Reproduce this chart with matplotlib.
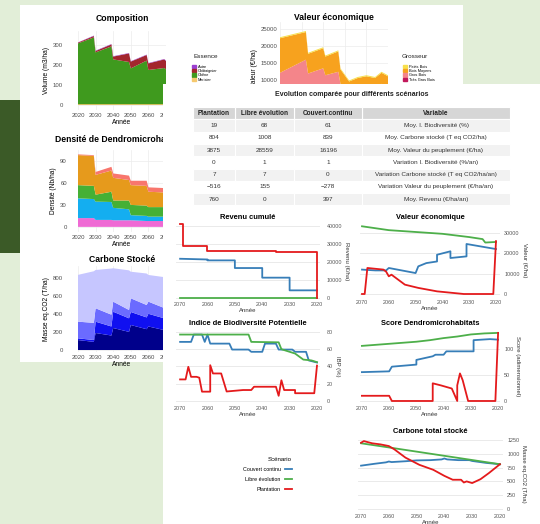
import matplotlib.pyplot as plt
from matplotlib.patches import Rectangle, Patch

plt.rcParams['font.family'] = ['Liberation Sans', 'DejaVu Sans']

# ---------------- Données : panneau arrière ----------------
annees_ticks = [2020, 2030, 2040, 2050, 2060, 2070]

# Composition (m3/ha)
comp_annees = [2020, 2029, 2030, 2039, 2040, 2049, 2050, 2059, 2060, 2069, 2070, 2075]
comp_merisier = [4, 4, 4, 4, 4, 4, 4, 4, 4, 4, 4, 4]
comp_chene = [304, 334, 259, 289, 224, 211, 179, 218, 171, 181, 174, 176]
comp_chataignier = [4, 7, 7, 10, 14, 43, 34, 28, 33, 43, 42, 45]
comp_autre = [1, 2, 2, 2, 2, 2, 2, 2, 2, 2, 2, 2]
essences = ["Autre", "Châtaignier", "Chêne", "Merisier"]
couleurs_essences = ["#9a3fd0", "#a3262e", "#3f9a1e", "#f6c96e"]

# Valeur économique (€/ha)
val_annees = [2020, 2032, 2033, 2040, 2041, 2047, 2048, 2052, 2056, 2060, 2064, 2067, 2070]
val_tres_gros = [400, 600, 450, 500, 450, 500, 350, 300, 350, 400, 380, 420, 400]
val_gros = [11800, 15400, 11550, 13000, 11050, 12000, 8650, 7200, 7650, 8100, 7820, 8580, 8100]
val_moyens = [10000, 8000, 5700, 5800, 5400, 5900, 4200, 2200, 2700, 2700, 2500, 3200, 2700]
val_petits = [300, 300, 300, 300, 300, 300, 300, 300, 300, 300, 300, 300, 300]
grosseurs = ["Petits Bois", "Bois Moyens", "Gros Bois", "Très Gros Bois"]
couleurs_grosseurs = ["#f7e04b", "#f7a21e", "#f4858a", "#c2185b"]

# Densité de dendromicrohabitats (Nb/ha)
dens_annees = [2020, 2029, 2030, 2039, 2040, 2049, 2050, 2059, 2060, 2069, 2070, 2075]
dens_rose = [12, 12, 9.5, 9.5, 9, 9, 9, 8, 8, 8, 8, 8]
dens_bleu = [27, 26, 25, 24.5, 17, 15, 7, 7, 6, 6, 6, 6]
dens_vert = [18, 18, 9.5, 14, 10, 12, 14, 14, 13, 13, 13, 13]
dens_orange = [41, 41, 27, 29, 31, 28, 27, 27, 21, 20, 18, 18]
dens_saumon = [1, 1, 4, 5, 6, 6, 6, 7, 6, 6, 6, 6]

# Carbone stocké (T/ha)
carb_annees = [2020, 2029, 2030, 2039, 2040, 2049, 2050, 2059, 2060, 2069, 2070, 2075]
carb_marine = [110, 90, 188, 160, 243, 200, 276, 230, 260, 220, 240, 235]
carb_bleu = [19, 20, 125, 100, 180, 150, 144, 130, 140, 130, 140, 135]
carb_moyen = [184, 190, 148, 130, 111, 92, 151, 137, 134, 114, 84, 80]
carb_lavande = [517, 570, 423, 510, 369, 438, 294, 348, 295, 341, 328, 335]

# ---------------- Données : panneau avant ----------------
scenarios = ["Couvert continu", "Libre évolution", "Plantation"]
couleurs_scen = ["#377eb8", "#4daf4a", "#e41a1c"]

tab_entetes = ["Variable", "Couvert.continu", "Libre évolution", "Plantation"]
tab_variables = ["Moy. I. Biodiversité (%)", "Moy. Carbone stocké (T eq CO2/ha)",
                 "Moy. Valeur du peuplement (€/ha)", "Variation I. Biodiversité (%/an)",
                 "Variation Carbone stocké (T eq CO2/ha/an)",
                 "Variation Valeur du peuplement (€/ha/an)", "Moy. Revenu (€/ha/an)"]
tab_couvert = ["61", "839", "16196", "1", "0", "−278", "397"]
tab_libre = ["68", "1008", "28559", "1", "7", "155", "0"]
tab_plantation = ["19", "804", "3875", "0", "7", "−516", "760"]

# Valeur économique
ve_cc_x = [2020, 2031, 2031, 2037, 2037, 2042, 2042, 2046, 2049, 2050, 2060, 2061, 2065, 2070]
ve_cc_y = [22100, 24600, 18500, 17700, 21000, 19300, 16000, 15200, 13600, 10300, 12800, 11600, 11600, 12000]
ve_le_x = [2020, 2024, 2025, 2030, 2040, 2050, 2060, 2070]
ve_le_y = [25600, 25300, 27000, 28000, 29600, 30500, 31400, 33300]
ve_pl_x = [2020, 2021, 2032, 2042, 2049, 2054, 2059, 2060, 2061, 2062, 2068, 2069, 2070]
ve_pl_y = [26000, 0, 0, 1300, 3000, 4600, 9500, 8700, 11000, 12000, 12800, 0, 0]

# Revenu cumulé
rc_cc_x = [2020, 2030, 2030, 2040, 2040, 2050, 2050, 2060, 2060, 2070]
rc_cc_y = [4250, 4250, 11300, 11300, 16650, 16650, 20900, 20900, 21400, 21800]
rc_le_x = [2020, 2070]
rc_le_y = [0, 0]
rc_pl_x = [2020, 2020, 2035, 2035, 2045, 2045, 2060, 2060, 2069, 2069, 2070]
rc_pl_y = [0, 25500, 25500, 26000, 26000, 26300, 26300, 28900, 28900, 41300, 41300]

# Indice de Biodiversité Potentielle
ibp_cc_x = [2020, 2023, 2024, 2028, 2029, 2034, 2035, 2039, 2040, 2044, 2045, 2051, 2052,
            2059, 2060, 2061, 2062, 2065, 2066, 2070]
ibp_cc_y = [44.6, 47, 57, 57, 59.6, 59.6, 66.5, 66.5, 57, 57, 59.6, 59.6, 66.5,
            66.5, 77, 68.5, 77, 77, 68.5, 68.5]
ibp_le_x = [2020, 2022, 2025, 2028, 2030, 2033, 2034, 2044, 2045, 2070]
ibp_le_y = [45, 47, 48, 55, 57, 60, 68, 68.5, 77, 77]
ibp_pl_x = [2020, 2021, 2028, 2028, 2032, 2033, 2034, 2035, 2037, 2043, 2044, 2047, 2053,
            2055, 2058, 2059, 2059, 2062, 2063, 2064, 2066, 2067, 2068, 2070]
ibp_pl_y = [41, 9, 9, 12.7, 12.7, 24, 6, 16.5, 16.5, 16.5, 12.7, 12.7, 11,
            31.9, 31.9, 41.5, 10.8, 10.8, 27, 28, 28, 39.6, 25, 25]

# Score dendromicrohabitats
sd_cc_x = [2020, 2023, 2029, 2029, 2039, 2040, 2043, 2044, 2050, 2050, 2059, 2060, 2070]
sd_cc_y = [118, 119, 117, 95.5, 95.5, 89, 89, 86, 79, 70, 66, 57, 55.5]
sd_le_x = [2020, 2025, 2030, 2035, 2040, 2045, 2050, 2055, 2060, 2065, 2070]
sd_le_y = [131, 130, 128, 124, 121, 117, 114, 112, 110, 108, 106]
sd_pl_x = [2020, 2021, 2031, 2033, 2034, 2035, 2035, 2037, 2041, 2044, 2044, 2059, 2060, 2070]
sd_pl_y = [131, 0, 0, 40, 53, 30, 0, 24, 30, 34, 0, 0, 10, 10]

# Carbone total stocké
ct_cc_x = [2020, 2025, 2030, 2031, 2035, 2039, 2040, 2041, 2045, 2050, 2054, 2059, 2060, 2061, 2065, 2070]
ct_cc_y = [811, 835, 870, 885, 885, 898, 915, 898, 885, 880, 865, 850, 860, 845, 820, 785]
ct_le_x = [2020, 2030, 2040, 2050, 2060, 2070]
ct_le_y = [811, 887, 963, 1039, 1115, 1190]
ct_pl_x = [2020, 2024, 2027, 2030, 2032, 2033, 2034, 2037, 2040, 2044, 2049, 2054, 2058,
           2060, 2063, 2066, 2069, 2070]
ct_pl_y = [811, 650, 540, 470, 500, 480, 530, 530, 600, 710, 800, 930, 1080,
           1140, 1170, 1190, 1230, 1200]

# ---------------- Figure ----------------
W, H = 540, 524
fig = plt.figure(figsize=(W / 100, H / 100), dpi=100)
fig.patch.set_facecolor('#e2eed8')


def boite(g, h, d, b):
    return [g / W, 1 - b / H, (d - g) / W, (b - h) / H]


def rect_fig(g, h, d, b, couleur, z):
    fig.add_artist(Rectangle((g / W, 1 - b / H), (d - g) / W, (b - h) / H,
                             transform=fig.transFigure, facecolor=couleur,
                             edgecolor='none', zorder=z))


rect_fig(0, 100, 20, 253, '#3b5a27', -3)
rect_fig(20, 5, 463, 362, 'white', -2)


def graphe_fond(pos, annees, couches, couleurs, ylim, yticks, titre, ylabel, tpad, ypad,
                axe_x=True):
    ax = fig.add_axes(boite(*pos), zorder=0)
    ax.stackplot(annees, *couches, colors=couleurs, lw=0)
    ax.set_xlim(2020, 2070)
    ax.set_ylim(*ylim)
    ax.set_xticks(annees_ticks)
    ax.set_yticks(yticks)
    ax.grid(color='#ececec', lw=0.5)
    ax.set_axisbelow(True)
    for s in ax.spines.values():
        s.set_visible(False)
    ax.tick_params(axis='x', length=0, labelsize=4.3, labelcolor='#4d4d4d', pad=2,
                   labelbottom=axe_x)
    ax.tick_params(axis='y', length=0, labelsize=4.3, labelcolor='#4d4d4d', pad=ypad)
    ax.set_title(titre, fontsize=6.2, fontweight='bold', pad=tpad)
    if axe_x:
        ax.set_xlabel('Année', fontsize=4.8, labelpad=1)
    ax.set_ylabel(ylabel, fontsize=4.8, labelpad=2)
    return ax


graphe_fond((78, 31, 166, 110), comp_annees,
            [comp_merisier, comp_chene, comp_chataignier, comp_autre],
            couleurs_essences[::-1], (-25, 370), [0, 100, 200, 300],
            'Composition', 'Volume (m3/ha)', 7, 11)

# bas du graphique caché sous le panneau avant
graphe_fond((280, 22, 388, 115), val_annees,
            [val_tres_gros, val_gros, val_moyens, val_petits],
            couleurs_grosseurs[::-1], (0, 26900), [5000, 10000, 15000, 20000, 25000],
            'Valeur économique', 'Valeur (€/ha)', 1, 2, axe_x=False)

graphe_fond((78, 150, 166, 232), dens_annees,
            [dens_rose, dens_bleu, dens_vert, dens_orange, dens_saumon],
            ['#ef6ad4', '#14aef0', '#45b035', '#e69a1c', '#f8766d'],
            (-7, 105), [0, 30, 60, 90],
            'Densité de Dendromicrohabitats', 'Densité (Nb/ha)', 6, 8)

graphe_fond((78, 266, 166, 352), carb_annees,
            [carb_marine, carb_bleu, carb_moyen, carb_lavande],
            ['#00008b', '#1010f0', '#6b6bff', '#c6c6ff'],
            (-22, 928), [0, 200, 400, 600, 800],
            'Carbone Stocké', 'Masse eq.CO2 (T/ha)', 3, 11)

# Légendes du panneau arrière
fig.text(193 / W, 1 - 56 / H, 'Essence', fontsize=4.6, va='center', color='#222222')
fig.legend(handles=[Patch(color=c) for c in couleurs_essences], labels=essences,
           loc='upper left', bbox_to_anchor=(192 / W, 1 - 65 / H), frameon=False,
           fontsize=2.8, handlelength=0.9, handleheight=0.9, labelspacing=0.05,
           borderpad=0, handletextpad=0.6, borderaxespad=0)
fig.text(402 / W, 1 - 56 / H, 'Grosseur', fontsize=4.6, va='center', color='#222222')
fig.legend(handles=[Patch(color=c) for c in couleurs_grosseurs], labels=grosseurs,
           loc='upper left', bbox_to_anchor=(403 / W, 1 - 65 / H), frameon=False,
           fontsize=2.8, handlelength=0.9, handleheight=0.9, labelspacing=0.05,
           borderpad=0, handletextpad=0.6, borderaxespad=0)

# ---------------- Panneau avant ----------------
toile = fig.add_axes(boite(163, 84, 540, 524), zorder=1)
toile.set_xlim(163, 540)
toile.set_ylim(524, 84)
toile.set_facecolor('white')
toile.set_xticks([])
toile.set_yticks([])
for s in toile.spines.values():
    s.set_visible(False)

toile.text(352, 94, 'Evolution comparée pour différents scénarios', ha='center',
           va='center', fontsize=5.0, fontweight='bold', color='#222222')

# tableau (colonnes en miroir : Variable à droite)
bords = [(362, 510), (294, 362), (235, 294), (193, 235)]
colonnes = [tab_variables, tab_couvert, tab_libre, tab_plantation]
haut, h_ligne = 107, 12.3
for (g, d), entete, valeurs in zip(bords, tab_entetes, colonnes):
    toile.add_patch(Rectangle((g, haut), d - g, h_ligne, facecolor='#d6d6d6',
                              edgecolor='white', lw=0.8))
    toile.text((g + d) / 2, haut + h_ligne / 2, entete, ha='center', va='center',
               fontsize=4.7, fontweight='bold', color='#222222')
    for i, v in enumerate(valeurs):
        y0 = haut + h_ligne * (i + 1)
        fond = '#f2f2f2' if i % 2 == 0 else 'white'
        toile.add_patch(Rectangle((g, y0), d - g, h_ligne, facecolor=fond,
                                  edgecolor='white', lw=0.8))
        toile.text((g + d) / 2, y0 + h_ligne / 2, v, ha='center', va='center',
                   fontsize=4.6, color='#333333')


def graphe_avant(pos, xlim, ylim, yticks, titre, ylabel, series, ypad):
    ax = fig.add_axes(boite(*pos), zorder=2)
    ax.set_facecolor('none')
    lignes = []
    for (xs, ys), c, nom in zip(series, couleurs_scen, scenarios):
        ln, = ax.plot(xs, ys, color=c, lw=1.3, label=nom, solid_joinstyle='round')
        lignes.append(ln)
    ax.set_xlim(*xlim)
    ax.set_ylim(*ylim)
    ax.set_xticks(annees_ticks)
    ax.set_yticks(yticks)
    ax.yaxis.tick_right()
    ax.yaxis.set_label_position('right')
    ax.grid(axis='y', color='#e6e6e6', lw=0.6)
    ax.set_axisbelow(True)
    for s in ax.spines.values():
        s.set_visible(False)
    ax.tick_params(axis='x', length=0, labelsize=3.9, labelcolor='#555555', pad=1.5)
    ax.tick_params(axis='y', length=0, labelsize=3.9, labelcolor='#555555', pad=ypad)
    ax.set_title(titre, fontsize=5.4, fontweight='bold', pad=2.5)
    ax.set_xlabel('Année', fontsize=4.3, labelpad=1, color='#333333')
    ax.set_ylabel(ylabel, fontsize=4.3, rotation=270, labelpad=5, color='#333333')
    return lignes


graphe_avant((176, 222, 320, 300), (2071.5, 2018.9), (-1111, 42222),
             [0, 10000, 20000, 30000, 40000], 'Revenu cumulé', 'Revenu (€/ha)',
             [(rc_cc_x, rc_cc_y), (rc_le_x, rc_le_y), (rc_pl_x, rc_pl_y)], 5)
graphe_avant((360, 222, 500, 298), (2070.75, 2018.5), (-1967, 35410),
             [0, 10000, 20000, 30000], 'Valeur économique', 'Valeur (€/ha)',
             [(ve_cc_x, ve_cc_y), (ve_le_x, ve_le_y), (ve_pl_x, ve_pl_y)], 3)
graphe_avant((176, 328, 320, 404), (2071.5, 2018.9), (-3.5, 84.6),
             [0, 20, 40, 60, 80], 'Indice de Biodiversité Potentielle', 'IBP (%)',
             [(ibp_cc_x, ibp_cc_y), (ibp_le_x, ibp_le_y), (ibp_pl_x, ibp_pl_y)], 5)
graphe_avant((360, 328, 500, 404), (2070.7, 2019.3), (-5.8, 140.4),
             [0, 50, 100], 'Score Dendromicrohabitats', 'Score (adimensionnel)',
             [(sd_cc_x, sd_cc_y), (sd_le_x, sd_le_y), (sd_pl_x, sd_pl_y)], 3)
lignes = graphe_avant((358, 436, 503, 512), (2071.1, 2018.9), (-54, 1322),
                      [0, 250, 500, 750, 1000, 1250], 'Carbone total stocké',
                      'Masse eq.CO2 (T/ha)',
                      [(ct_cc_x, ct_cc_y), (ct_le_x, ct_le_y), (ct_pl_x, ct_pl_y)], 3)

fig.legend(handles=lignes, labels=scenarios, loc='upper right',
           bbox_to_anchor=(292 / W, 1 - 457 / H), frameon=False, fontsize=3.9,
           title='Scénario', title_fontsize=4.4, markerfirst=False, alignment='right',
           handlelength=1.3, labelspacing=0.9, borderpad=0, borderaxespad=0)

fig.savefig('out.png', dpi=100)
